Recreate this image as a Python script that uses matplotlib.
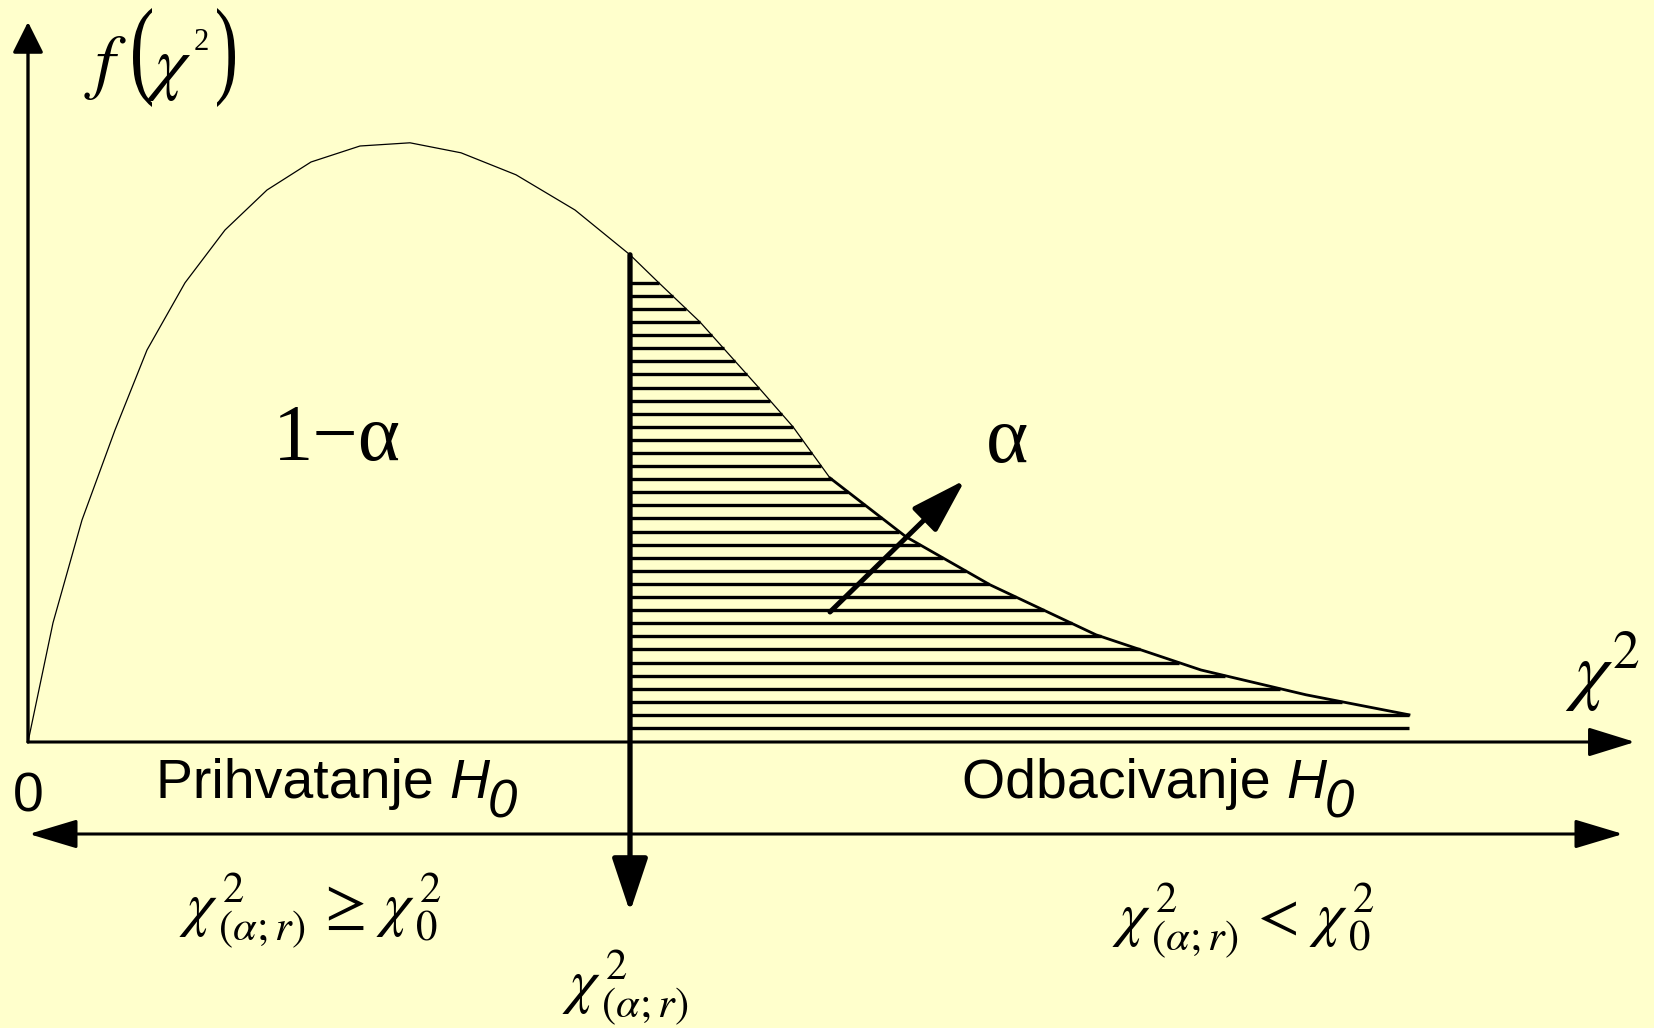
import numpy as np
import matplotlib
matplotlib.use("Agg")
import matplotlib.pyplot as plt
from matplotlib.textpath import TextPath
from matplotlib.font_manager import FontProperties
from matplotlib.patches import PathPatch
from matplotlib.transforms import Affine2D

# chi-square density (x in chi^2 units, y in f units)
chi_vals = [0, 0.25, 0.54, 0.87, 1.19, 1.57, 1.97, 2.39, 2.83, 3.32, 3.82, 4.33,
            4.88, 5.47, 6.02, 6.30, 6.72, 7.30, 7.65, 8.02, 8.78, 9.62, 10.68,
            11.73, 12.78, 13.81]
f_vals = [0, 0.0298, 0.0555, 0.078, 0.098, 0.1148, 0.128, 0.138, 0.145, 0.149,
          0.1498, 0.1473, 0.1418, 0.133, 0.1218, 0.115, 0.105, 0.0888, 0.0788,
          0.066, 0.0513, 0.0393, 0.0268, 0.018, 0.0118, 0.0068]
chi_crit = 6.02
region_labels = ["Prihvatanje ", "Odbacivanje "]

BG = "#FFFFCC"
plt.rcParams["mathtext.fontset"] = "stix"
serif = "Liberation Serif"
sans = "Liberation Sans"

# pixel -> data helper, only used to place annotations
X0, Y0, SX, SY = 28.0, 742.0, 100.0, 4000.0
def px(x, y):
    return ((x - X0) / SX, (Y0 - y) / SY)

fig = plt.figure(figsize=(16.54, 10.28), dpi=100)
fig.patch.set_facecolor(BG)
ax = fig.add_axes([0, 0, 1, 1])
ax.set_facecolor(BG)
ax.set_xlim(-X0 / SX, (1654 - X0) / SX)
ax.set_ylim(-(1028 - Y0) / SY, Y0 / SY)
ax.axis("off")

chi = np.array(chi_vals)
f = np.array(f_vals)

# curve: thin on the left, heavier in the tail
thin = chi <= 8.02
thick = chi >= 8.02
ax.plot(chi[thin], f[thin], color="black", lw=0.9)
ax.plot(chi[thick], f[thick], color="black", lw=2.0)

# horizontal hatching of the rejection area
tail = chi >= chi_crit
tx, tf = chi[tail], f[tail]
for lv in np.linspace(0.0035, 0.1148, 35):
    xe = np.interp(lv, tf[::-1], tx[::-1])
    ax.plot([chi_crit, xe], [lv, lv], color="black", lw=2.4, solid_capstyle="butt")

def arrow(start, end, style, lw):
    ax.annotate("", xy=end, xytext=start,
                arrowprops=dict(arrowstyle=style, mutation_scale=1, lw=lw,
                                color="black", shrinkA=0, shrinkB=0))

# axes
arrow((0, 0), px(28, 22), "-|>,head_length=19,head_width=9.5", 2.4)
arrow((0, 0), px(1635, 742), "-|>,head_length=29,head_width=9", 2.2)
# accept / reject double arrow
arrow(px(29, 834), px(1623, 834), "<|-|>,head_length=30,head_width=9", 2.2)
# critical value line
arrow((chi_crit, np.interp(chi_crit, chi, f)), px(630, 912),
      "-|>,head_length=33,head_width=11", 3.8)
# alpha pointer
arrow(px(830, 612), px(965, 480), "-|>,head_length=34,head_width=10.5", 3.6)

# tall thin parentheses of f(chi^2), glyph stretched into a box
def glyph_box(s, x0, y0, x1, y1):
    tp = TextPath((0, 0), s, size=100, prop=FontProperties(family=serif))
    ext = tp.get_extents()
    dx0, dy1 = px(x0, y0)
    dx1, dy0 = px(x1, y1)
    tr = (Affine2D().translate(-ext.x0, -ext.y0)
          .scale((dx1 - dx0) / ext.width, (dy1 - dy0) / ext.height)
          .translate(dx0, dy0))
    ax.add_patch(PathPatch(tr.transform_path(tp), facecolor="black", lw=0))

ax.text(*px(84, 85), r"$f$", fontsize=52, ha="left", va="baseline")
glyph_box("(", 133, 8, 152, 107)
ax.text(*px(146, 86), r"$\chi$", fontsize=52, ha="left", va="baseline")
ax.text(*px(194, 50), "2", family=serif, fontsize=22, ha="left", va="baseline")
glyph_box(")", 217, 8, 235, 107)

ax.text(*px(1565, 695), r"$\chi^{2}$", fontsize=55, ha="left", va="baseline")
ax.text(*px(337, 460), "1\u2212\u03b1", family=serif, fontsize=58, ha="center", va="baseline")
ax.text(*px(1007, 462), "\u03b1", family=serif, fontsize=58, ha="center", va="baseline")
ax.text(*px(28, 811), "0", family=sans, fontsize=40, ha="center", va="baseline")

for lab, x0 in zip(region_labels, [156, 962]):
    t = ax.text(*px(x0, 798), lab, family=sans, fontsize=40, ha="left", va="baseline")
    h = ax.annotate("H", xy=(1, 0), xycoords=t, family=sans, style="italic",
                    fontsize=40, ha="left", va="bottom")
    ax.annotate("0", xy=(1, 0), xycoords=h, xytext=(-1, -13.5), textcoords="offset points",
                family=sans, style="italic", fontsize=38, ha="left", va="bottom")

ax.text(*px(310, 925), r"$\chi^{\,2}_{\,(\alpha;r)}\,\geq\,\chi^{\,2}_{\,0}$", fontsize=44,
        ha="center", va="baseline")
ax.text(*px(1243, 935), r"$\chi^{\,2}_{\,(\alpha;r)}\,<\,\chi^{\,2}_{\,0}$", fontsize=44,
        ha="center", va="baseline")
ax.text(*px(625, 1002), r"$\chi^{\,2}_{\,(\alpha;r)}$", fontsize=44, ha="center", va="baseline")

fig.savefig("out.png", dpi=100, facecolor=BG)
